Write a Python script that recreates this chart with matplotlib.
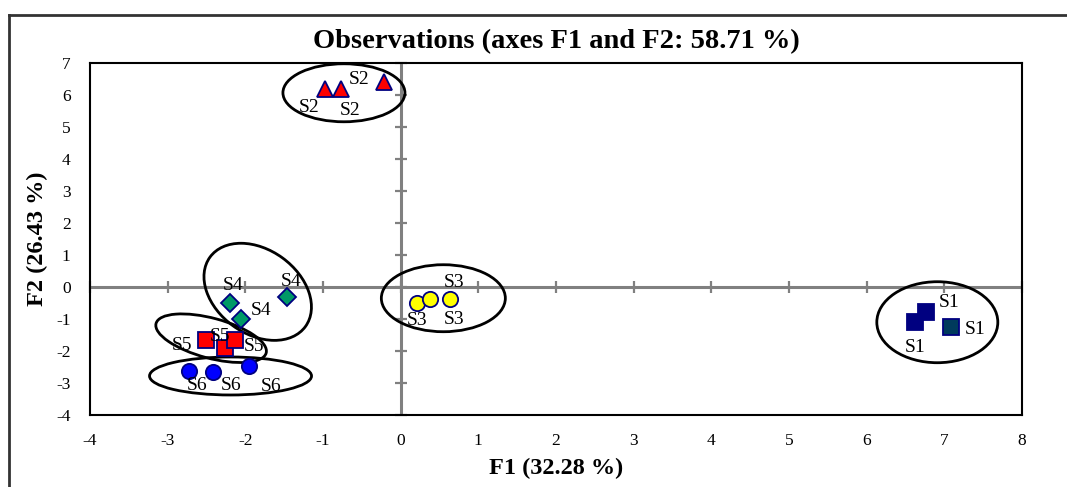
import numpy as np
import matplotlib.pyplot as plt
from matplotlib.patches import Ellipse
from matplotlib.lines import Line2D
import matplotlib.transforms as mtransforms

plt.rcParams['font.family'] = ['Liberation Serif', 'DejaVu Serif']
plt.rcParams['axes.unicode_minus'] = False

# observation coordinates on F1/F2
s1_x = [6.62, 6.76, 7.09]
s1_y = [-1.10, -0.79, -1.25]
s2_x = [-0.98, -0.77, -0.22]
s2_y = [6.19, 6.19, 6.41]
s3_x = [0.21, 0.38, 0.63]
s3_y = [-0.50, -0.38, -0.38]
s4_x = [-2.20, -2.05, -1.46]
s4_y = [-0.51, -1.01, -0.31]
s5_x = [-2.50, -2.26, -2.13]
s5_y = [-1.66, -1.92, -1.66]
s6_x = [-2.72, -2.42, -1.95]
s6_y = [-2.62, -2.65, -2.47]

names = ['S1', 'S2', 'S3', 'S4', 'S5', 'S6']
xs = [s1_x, s2_x, s3_x, s4_x, s5_x, s6_x]
ys = [s1_y, s2_y, s3_y, s4_y, s5_y, s6_y]

x_ticks = list(range(-4, 9))
y_ticks = list(range(-4, 8))

# marker style per group: marker, face colours, size
styles = {
    'S1': ('s', ['#000080', '#000080', '#003a5c'], 11.5),
    'S2': ('^', ['#ff0000'] * 3, 11.5),
    'S3': ('o', ['#ffff00'] * 3, 11),
    'S4': ('D', ['#009966'] * 3, 9),
    'S5': ('s', ['#ff0000'] * 3, 11),
    'S6': ('o', ['#0000ff'] * 3, 11),
}
# label offsets (pixels, y down) for each point
offsets = {
    'S1': [(0, 25), (23, -10), (24, 2)],
    'S2': [(-15, 19), (9, 22), (-24, -2)],
    'S3': [(0, 17), (24, -17), (5, 20)],
    'S4': [(3, -18), (20, -9), (4, -15)],
    'S5': [(-24, 5), (-5, -12), (19, 6)],
    'S6': [(8, 15), (18, 14), (22, 20)],
}
# group ellipses: centre (data), width, height (pixels), angle
ellipses = [
    (6.91, -1.10, 121, 81, 0),
    (-0.73, 6.07, 122, 58, 0),
    (0.55, -0.35, 124, 67, 0),
    (-1.84, -0.15, 118, 84, -36),
    (-2.44, -1.60, 114, 40, -15),
    (-2.19, -2.78, 162, 38, 0),
]

fig = plt.figure(figsize=(10.67, 4.87), dpi=100)
ax = fig.add_axes([0.0843, 0.1478, 0.8735, 0.7228])
ax.set_xlim(-4, 8)
ax.set_ylim(-4, 7)

# gray zero lines with cross ticks
gray = '#808080'
ax.axhline(0, color=gray, lw=2.2, zorder=1)
ax.axvline(0, color=gray, lw=2.2, zorder=1)
ax.plot(x_ticks, [0] * len(x_ticks), marker='|', ms=9, mew=1.6, color=gray, ls='none', zorder=1, clip_on=False)
ax.plot([0] * len(y_ticks), y_ticks, marker='_', ms=9, mew=1.6, color=gray, ls='none', zorder=1, clip_on=False)

for cx, cy, w, h, ang in ellipses:
    tr = fig.dpi_scale_trans + mtransforms.ScaledTranslation(cx, cy, ax.transData)
    ax.add_patch(Ellipse((0, 0), w / 100, h / 100, angle=ang, transform=tr,
                         fill=False, ec='black', lw=2.0, zorder=3))

for name, gx, gy in zip(names, xs, ys):
    mk, fcs, ms = styles[name]
    for i in range(len(gx)):
        ax.plot(gx[i], gy[i], marker=mk, ms=ms, mfc=fcs[i], mec='#000080', mew=1.3, ls='none', zorder=4)
        dx, dy = offsets[name][i]
        ax.annotate(name, (gx[i], gy[i]), xytext=(dx * 0.72, -dy * 0.72), textcoords='offset points',
                    ha='center', va='center', fontsize=14, zorder=5)

ax.set_xticks(x_ticks)
ax.set_yticks(y_ticks)
ax.tick_params(length=0, labelsize=12.5)
ax.tick_params(axis='x', pad=13)
ax.tick_params(axis='y', pad=14)
for sp in ax.spines.values():
    sp.set_linewidth(1.5)

ax.set_title('Observations (axes F1 and F2: 58.71 %)', fontsize=20.5, fontweight='bold', pad=11)
ax.set_xlabel('F1 (32.28 %)', fontsize=17.5, fontweight='bold', labelpad=6)
ax.set_ylabel('F2 (26.43 %)', fontsize=17.5, fontweight='bold', labelpad=6)

# outer chart border
fig.add_artist(Line2D([9 / 1067, 9 / 1067], [0, 1 - 15 / 487], transform=fig.transFigure, color='#333333', lw=2))
fig.add_artist(Line2D([9 / 1067, 1], [1 - 15 / 487, 1 - 15 / 487], transform=fig.transFigure, color='#333333', lw=2))

fig.savefig('out.png', dpi=100)
